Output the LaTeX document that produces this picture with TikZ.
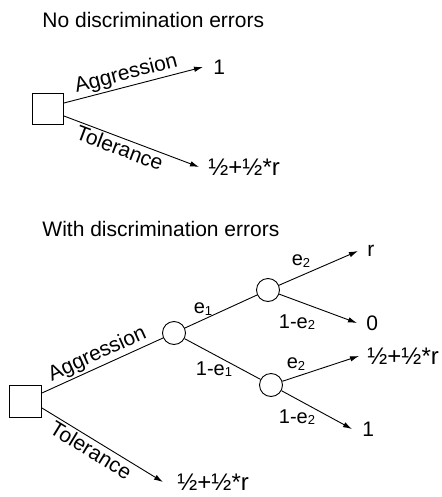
\documentclass[tikz,border=0pt]{standalone}
\usepackage{fontspec}
\setmainfont{Liberation Sans}
\usetikzlibrary{arrows.meta,calc}
\newcommand{\sbs}[1]{\raisebox{-1.5pt}{\fontsize{13}{13}\selectfont #1}}
\begin{document}
\begin{tikzpicture}[x=1pt,y=-1pt,
  line width=0.9pt,
  arr/.style={-{Latex[length=9pt,width=5.5pt]}},
  dec/.style={draw,rectangle,minimum size=31pt,inner sep=0pt,line width=0.9pt},
  chance/.style={draw,circle,minimum size=23pt,inner sep=0pt,line width=0.9pt},
  val/.style={anchor=west,inner xsep=9pt,inner ysep=0pt,font=\fontsize{21}{25}\selectfont},
  half/.style={val,font=\fontsize{24}{28}\selectfont},
  ttl/.style={anchor=base west,inner sep=0pt,font=\fontsize{21}{25}\selectfont},
  lab/.style={font=\fontsize{21}{25}\selectfont,sloped,inner sep=2pt},
  plab/.style={font=\fontsize{20}{24}\selectfont,inner sep=0pt}
]
\useasboundingbox (0,0) rectangle (441,497);
% ---- top tree
\node[ttl] (t1) at (42,28) {No discrimination errors};
\node[dec] (sq1) at (48,109) {};
\node[val,inner xsep=10pt] (a1) at (203,67) {1};
\node[half] (a2) at (199,167) {½+½*r};
\draw[arr] ($(sq1.east)+(0,-6)$) -- (a1.west)
  node[lab,above,pos=0.47] {Aggression};
\draw[arr] ($(sq1.east)+(0,7)$) -- (a2.west)
  node[lab,below,pos=0.44] {Tolerance};
% ---- bottom tree
\node[ttl] (t2) at (42,236) {With discrimination errors};
\node[dec,minimum size=32pt] (sq2) at (25.5,401) {};
\node[chance] (c1) at (174,333) {};
\node[chance] (c2) at (268,290) {};
\node[chance] (c3) at (271,385) {};
\node[val] (vr) at (358,251) {r};
\node[val] (v0) at (357,323) {0};
\node[half,inner xsep=8pt] (vh) at (359,356) {½+½*r};
\node[val,inner xsep=10pt] (v1) at (352,429) {1};
\node[half,inner xsep=14pt] (vt) at (163,482) {½+½*r};
\draw ($(sq2.east)+(0,-8)$) -- (c1)
  node[lab,above,pos=0.5] {Aggression};
\draw[arr] ($(sq2.east)+(0,7)$) -- (vt.west)
  node[lab,below,pos=0.45] {Tolerance};
\draw (c1) -- (c2);
\draw (c1) -- (c3);
\draw[arr] (c2) -- (vr.west);
\draw[arr] (c2) -- (v0.west);
\draw[arr] (c3) -- (vh.west);
\draw[arr] (c3) -- (v1.west);
\node[plab] (l1) at (203,309) {e\sbs{1}};
\node[plab] (l2) at (214,369) {1-e\sbs{1}};
\node[plab] (l3) at (301,261) {e\sbs{2}};
\node[plab] (l4) at (297,322) {1-e\sbs{2}};
\node[plab] (l5) at (296,364) {e\sbs{2}};
\node[plab] (l6) at (297,417) {1-e\sbs{2}};
\end{tikzpicture}
\end{document}
